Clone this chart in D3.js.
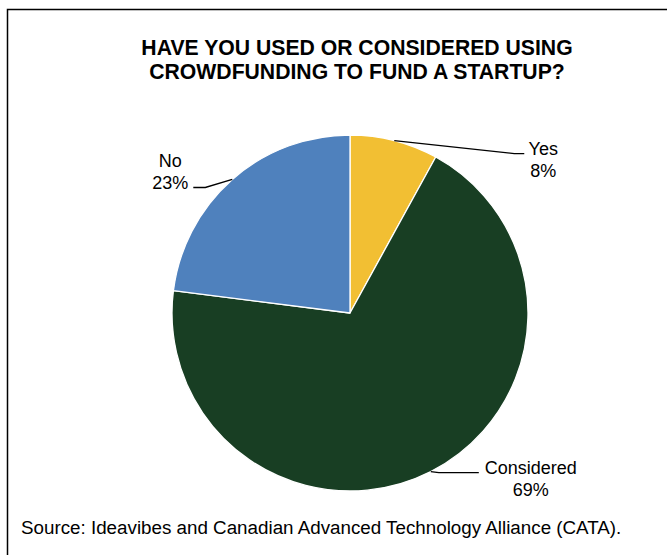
<!DOCTYPE html>
<html>
<head>
<meta charset="utf-8">
<script src="https://cdn.jsdelivr.net/npm/d3@7"></script>
<style>
  html, body { margin: 0; padding: 0; background: #fff; }
  svg { display: block; font-family: "Liberation Sans", Arial, sans-serif; }
</style>
</head>
<body>
<svg id="chart" width="667" height="555"></svg>
<script>
// Survey answers, clockwise from 12 o'clock
const categories = ["Yes", "Considered", "No"];
const shares = [8, 69, 23];
const sliceColors = ["#F2BF33", "#183E23", "#4F81BD"];
const titleLines = ["HAVE YOU USED OR CONSIDERED USING", "CROWDFUNDING TO FUND A STARTUP?"];
const sourceNote = "Source: Ideavibes and Canadian Advanced Technology Alliance (CATA).";

const svg = d3.select("#chart");

// Frame around the chart (runs off the right and bottom edges)
svg.append("rect")
  .attr("x", 7.5).attr("y", 9.5)
  .attr("width", 700).attr("height", 600)
  .attr("fill", "none").attr("stroke", "#000").attr("stroke-width", 1.5);

// Title
svg.append("text")
  .attr("x", 357).attr("y", 55)
  .attr("text-anchor", "middle")
  .attr("font-weight", "bold").attr("font-size", 21.2)
  .selectAll("tspan").data(titleLines).join("tspan")
  .attr("x", 357).attr("dy", (d, i) => i === 0 ? 0 : 24)
  .text(d => d);

// Pie
const cx = 350, cy = 313, r = 178;
const pie = d3.pie().sort(null).value(d => d.value);
const arcs = pie(categories.map((c, i) => ({ name: c, value: shares[i], color: sliceColors[i] })));
const arc = d3.arc().innerRadius(0).outerRadius(r);

const g = svg.append("g").attr("transform", `translate(${cx},${cy})`);
g.selectAll("path").data(arcs).join("path")
  .attr("d", arc)
  .attr("fill", d => d.data.color)
  .attr("stroke", "#fff").attr("stroke-width", 1.3)
  .attr("stroke-linejoin", "round");

// Leader lines and labels: elbow offsets relative to the slice's edge point
const labelLayout = {
  Yes:        { elbow: [120, 13], end: [130, 13], text: [149, 14], anchor: "middle" },
  Considered: { elbow: [8, 1],    end: [48, 1],   text: [100, 2],  anchor: "middle" },
  No:         { elbow: [-27, 8],  end: [-39, 8],  text: [-62, -12], anchor: "middle" }
};

const lineGap = 22;
arcs.forEach(d => {
  const mid = (d.startAngle + d.endAngle) / 2;
  const px = Math.sin(mid) * r, py = -Math.cos(mid) * r;
  const L = labelLayout[d.data.name];
  g.append("polyline")
    .attr("points", [[px, py], [px + L.elbow[0], py + L.elbow[1]], [px + L.end[0], py + L.end[1]]].map(p => p.join(",")).join(" "))
    .attr("fill", "none").attr("stroke", "#000").attr("stroke-width", 1.3);
  const t = g.append("text")
    .attr("text-anchor", L.anchor)
    .attr("font-size", 18)
    .attr("fill", "#000");
  t.append("tspan").attr("x", px + L.text[0]).attr("y", py + L.text[1]).text(d.data.name);
  t.append("tspan").attr("x", px + L.text[0]).attr("y", py + L.text[1] + lineGap).text(d.data.value + "%");
});

// Source note
svg.append("text")
  .attr("x", 21).attr("y", 534)
  .attr("font-size", 18.8)
  .text(sourceNote);
</script>
</body>
</html>
